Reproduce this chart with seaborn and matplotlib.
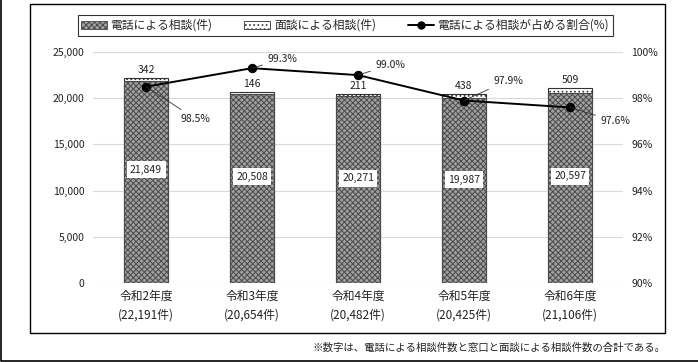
import matplotlib
matplotlib.use("Agg")
import matplotlib.pyplot as plt
import matplotlib.patches as mpatches
import matplotlib.lines as mlines
from matplotlib.ticker import FuncFormatter
import numpy as np
import pandas as pd
import seaborn as sns

years = ["令和2年度", "令和3年度", "令和4年度", "令和5年度", "令和6年度"]
totals = ["22,191", "20,654", "20,482", "20,425", "21,106"]
phone = [21849, 20508, 20271, 19987, 20597]
face = [342, 146, 211, 438, 509]
share = [98.5, 99.3, 99.0, 97.9, 97.6]

labels = [f"{y}\n({t}件)" for y, t in zip(years, totals)]
df = pd.DataFrame({"cat": labels, "phone": phone, "face": face,
                   "total": [p + f for p, f in zip(phone, face)], "share": share})

sns.set_theme(style="white")
plt.rcParams['font.family'] = ['Noto Sans CJK JP', 'DejaVu Sans']
plt.rcParams['hatch.linewidth'] = 0.7

fig = plt.figure(figsize=(6.98, 3.62), dpi=100)
ax = fig.add_axes([93/698, 1-283/362, (623-93)/698, (283-52)/362])

# total bars (face-to-face part on top)
sns.barplot(data=df, x="cat", y="total", ax=ax, color="white", width=0.41,
            edgecolor="#333333", linewidth=0.8, saturation=1)
for p in ax.patches:
    p.set_hatch("....")
n_face = len(ax.patches)
sns.barplot(data=df, x="cat", y="phone", ax=ax, color="#a0a0a0", width=0.41,
            edgecolor="#444444", linewidth=0.8, saturation=1)
for p in ax.patches[n_face:]:
    p.set_hatch("xxxxxx")
    p.set_edgecolor("#4a4a4a")

ax.set_ylim(0, 25000)
ax.set_xlim(-0.5, 4.5)
ax.set_yticks(range(0, 25001, 5000))
ax.yaxis.set_major_formatter(FuncFormatter(lambda v, _: f"{int(v):,}"))
ax.grid(axis="y", color="#d9d9d9", linewidth=0.8)
ax.set_axisbelow(True)
for s in ax.spines.values():
    s.set_visible(False)
ax.set_xlabel("")
ax.set_ylabel("")
ax.tick_params(axis="both", length=0, labelsize=7.5, colors="#222222", pad=6)
ax.tick_params(axis="x", pad=5, labelsize=8.5)
for t in ax.get_xticklabels():
    t.set_linespacing(1.6)

# value labels
for i, (ph, fc, tot) in enumerate(zip(phone, face, df["total"])):
    ax.text(i, ph * 0.56, f"{ph:,}", ha="center", va="center", fontsize=7.5,
            color="#222222", bbox=dict(facecolor="white", edgecolor="none", pad=2.5))
    ax.text(i, tot + 350, f"{fc:,}", ha="center", va="bottom", fontsize=7.5, color="#222222")

ax2 = ax.twinx()
sns.lineplot(x=np.arange(len(share)), y=share, ax=ax2, color="black", linewidth=1.4,
             marker="o", markersize=6, markeredgecolor="black")
ax2.set_ylim(90, 100)
ax2.set_yticks(range(90, 101, 2))
ax2.yaxis.set_major_formatter(FuncFormatter(lambda v, _: f"{int(v)}%"))
for s in ax2.spines.values():
    s.set_visible(False)
ax2.tick_params(axis="y", length=0, labelsize=7.5, colors="#222222", pad=6)
ax2.set_ylabel("")
ax2.set_xlim(-0.5, 4.5)

offsets = [(34, -32), (15, 9), (17, 10), (29, 20), (30, -14)]
for i, (v, (dx, dy)) in enumerate(zip(share, offsets)):
    ax2.annotate(f"{v:.1f}%", xy=(i, v), xytext=(dx * 0.72, dy * 0.72),
                 textcoords="offset points", ha="left", va="center", fontsize=7.5,
                 color="#222222",
                 arrowprops=dict(arrowstyle="-", color="#333333", linewidth=0.6,
                                 shrinkA=1, shrinkB=0))

# legend
h1 = mpatches.Patch(facecolor="#a0a0a0", edgecolor="#4a4a4a", hatch="xxxxxx", linewidth=0.6)
h2 = mpatches.Patch(facecolor="white", edgecolor="#333333", hatch="....", linewidth=0.6)
h3 = mlines.Line2D([], [], color="black", linewidth=1.4, marker="o", markersize=5)
leg = fig.legend([h1, h2, h3],
                 ["電話による相談(件)", "面談による相談(件)", "電話による相談が占める割合(%)"],
                 loc="center", bbox_to_anchor=(345/698, 1-25.5/362), ncol=3,
                 fontsize=8.5, frameon=True, fancybox=False, edgecolor="black",
                 handlelength=2.2, handleheight=0.7, columnspacing=2.7,
                 borderpad=0.3, handletextpad=0.3, borderaxespad=0)
leg.get_frame().set_linewidth(0.8)

# frames
fig.patches.append(mpatches.Rectangle((30/698, 1-333/362), (665-30)/698, (333-4)/362,
                                      transform=fig.transFigure, fill=False,
                                      edgecolor="black", linewidth=1.0))
fig.lines.append(mlines.Line2D([0.7/698, 0.7/698, 1], [1, 0.7/362, 0.7/362],
                               transform=fig.transFigure, color="black", linewidth=1.2))

fig.text(665/698, 1-348/362, "※数字は、電話による相談件数と窓口と面談による相談件数の合計である。",
         ha="right", va="center", fontsize=7.5, color="#222222")

fig.savefig("out.png", dpi=100, facecolor="white")
